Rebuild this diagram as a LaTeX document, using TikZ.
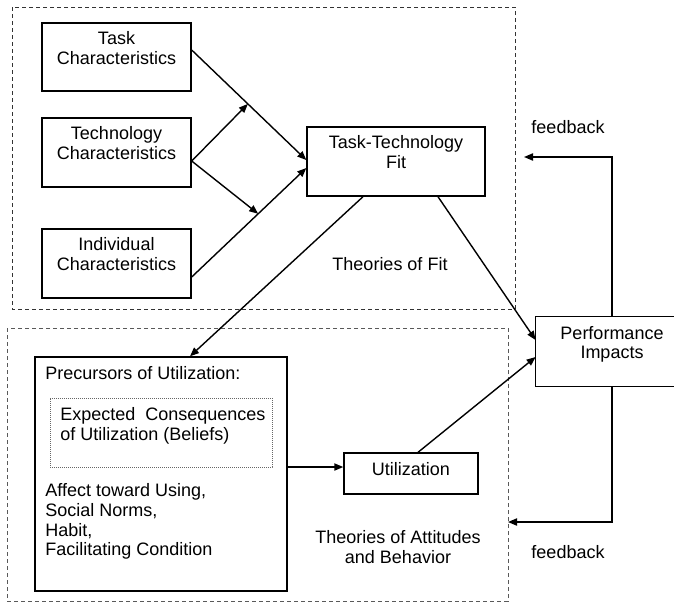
\documentclass[tikz,border=0pt]{standalone}
\usepackage{fontspec}
\setmainfont{Liberation Sans}
\usetikzlibrary{arrows.meta}

\tikzset{
    box/.style={draw, line width=0.7pt, inner sep=0pt},
    openbox/.style={inner sep=0pt},
    lbl/.style={anchor=north, align=center, inner sep=0pt, yshift=-4.5pt},
    txt/.style={align=center, inner sep=0pt},
    arr/.style={-{Triangle[length=4.5pt,width=3.6pt]}, line width=0.7pt},
    fitframe/.style={dash pattern=on 2pt off 1.5pt, line width=0.45pt, black!80},
    attframe/.style={dash pattern=on 2pt off 1.5pt, line width=0.4pt, black!65},
}

\begin{document}
\begin{tikzpicture}[x=0.5pt, y=-0.5pt, font=\fontsize{9pt}{9.9pt}\selectfont]
\useasboundingbox (0,0) rectangle (674,602);

% Frames
\draw[fitframe] (12,7) rectangle (515,309);
\draw[attframe] (7,328) rectangle (508,601);

% Define nodes
\node[box, minimum width=74.5pt, minimum height=34pt,
      label={[lbl]north:Task\\Characteristics}] (task) at (116.5,57) {};
\node[box, minimum width=74.5pt, minimum height=34.5pt,
      label={[lbl]north:Technology\\Characteristics}] (tech) at (116.5,152.5) {};
\node[box, minimum width=74.5pt, minimum height=34.5pt,
      label={[lbl]north:Individual\\Characteristics}] (ind) at (116.5,263.5) {};
\node[box, minimum width=89pt, minimum height=34.5pt,
      label={[lbl]north:Task-Technology\\Fit}] (ttf) at (396,161.5) {};
\node[openbox, minimum width=76pt, minimum height=34.5pt,
      label={[lbl]north:Performance\\Impacts}] (perf) at (612,351.5) {};
\draw[line width=0.7pt] (perf.north east) -- (perf.north west)
    -- (perf.south west) -- (perf.south east);
\node[box, minimum width=126pt, minimum height=117pt] (prec) at (161,474) {};
\node[box, minimum width=111pt, minimum height=34.5pt,
      draw=black!60, line width=0.4pt, dash pattern=on 0.6pt off 0.4pt] (beliefs) at (161,432.5) {};
\node[box, minimum width=67pt, minimum height=20.5pt] (util) at (411,473.5) {};

% Texts
\node[txt, anchor=north west] (prectxt) at (45,366) {Precursors of Utilization:};
\node[txt, anchor=north west, align=left] (belieftxt) at (60,407)
    {Expected\ \ Consequences\\of Utilization (Beliefs)};
\node[txt, anchor=north west, align=left] (afftxt) at (45,483)
    {Affect toward Using,\\Social Norms,\\Habit,\\Facilitating Condition};
\node[txt] (utiltxt) at (411,469) {Utilization};
\node[txt] (fittxt) at (390,264) {Theories of Fit};
\node[txt] (atttxt) at (398,547) {Theories of Attitudes\\and Behavior};
\node[txt] (fbtoptxt) at (568,127) {feedback};
\node[txt] (fbbottxt) at (568,552) {feedback};
\coordinate (fbtop) at (524,157);
\coordinate (fbbot) at (508,522);

% Connectors
\draw[arr] ([yshift=3.5pt]task.east) -- coordinate[pos=0.49] (m1) ([yshift=0.75pt]ttf.west);
\draw[arr] ([yshift=-6.75pt]ind.east) -- coordinate[pos=0.58] (m2) ([yshift=-3.25pt]ttf.west);
\draw[arr] ([yshift=-4.25pt]tech.east) -- (m1);
\draw[arr] ([yshift=-4.25pt]tech.east) -- (m2);
\draw[arr] ([xshift=-16.5pt]ttf.south) -- ([xshift=14.5pt]prec.north);
\draw[arr] ([xshift=21pt]ttf.south) -- ([yshift=5.75pt]perf.west);
\draw[arr] ([yshift=3.5pt]prec.east) -- ([yshift=3.5pt]prec.east -| util.west);
\draw[arr] ([xshift=3.5pt]util.north) -- ([yshift=-2.75pt]perf.west);
\draw[arr] (perf.north) |- (fbtop);
\draw[arr] (perf.south) |- (fbbot);
\end{tikzpicture}
\end{document}
